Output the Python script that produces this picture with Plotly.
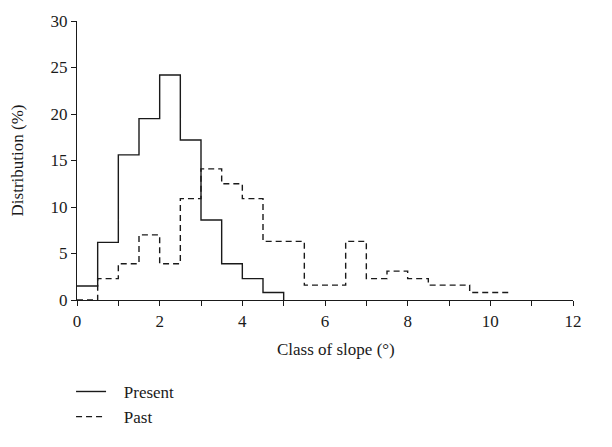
import plotly.graph_objects as go

# bin edges (class of slope, degrees) and distribution values (%)
present_edges = [0, 0.5, 1, 1.5, 2, 2.5, 3, 3.5, 4, 4.5, 5]
present_values = [1.5, 6.2, 15.6, 19.5, 24.2, 17.2, 8.6, 3.9, 2.3, 0.8]

past_edges = [0, 0.5, 1, 1.5, 2, 2.5, 3, 3.5, 4, 4.5, 5, 5.5, 6, 6.5, 7,
              7.5, 8, 8.5, 9, 9.5, 10, 10.5]
past_values = [0, 2.3, 3.9, 7.0, 3.9, 10.9, 14.1, 12.5, 10.9, 6.3, 6.3,
               1.6, 1.6, 6.3, 2.3, 3.1, 2.3, 1.6, 1.6, 0.8, 0.8]

x_ticks = list(range(0, 13))
x_ticklabels = [str(v) if v % 2 == 0 else "" for v in x_ticks]
y_ticks = [0, 5, 10, 15, 20, 25, 30]

FONT = "Liberation Serif"
INK = "#1a1a1a"
FS = 17
PAD = "\u00a0\u00a0\u00a0"

fig = go.Figure()
# Present: step line that drops to zero at its last edge
fig.add_trace(go.Scatter(
    x=present_edges, y=present_values + [0],
    mode="lines", line=dict(shape="hv", color=INK, width=1.4),
    name=PAD + "Present"))
# Past: dashed step line ending at its last edge
fig.add_trace(go.Scatter(
    x=past_edges, y=past_values + [past_values[-1]],
    mode="lines", line=dict(shape="hv", color=INK, width=1.4, dash="6px,4px"),
    name=PAD + "Past"))

fig.update_layout(
    width=612, height=447,
    margin=dict(l=77, r=39, t=17, b=131),
    paper_bgcolor="white", plot_bgcolor="white",
    font=dict(family=FONT, size=FS, color=INK),
    showlegend=True,
    legend=dict(x=-0.012, xanchor="left", y=-0.265, yanchor="top",
                font=dict(family=FONT, size=FS, color=INK),
                itemwidth=30, bgcolor="rgba(0,0,0,0)", tracegroupgap=0),
    annotations=[dict(text="Class of slope (°)", xref="paper", yref="paper",
                      x=0.522, y=-0.176, xanchor="center", yanchor="middle",
                      showarrow=False, font=dict(family=FONT, size=FS, color=INK))],
)
fig.update_xaxes(
    range=[0, 12], tickvals=x_ticks, ticktext=x_ticklabels,
    ticks="outside", ticklen=5, tickwidth=1, tickcolor=INK,
    showline=True, linecolor=INK, linewidth=1.2,
    showgrid=False, zeroline=False,
    tickfont=dict(family=FONT, size=FS),
)
fig.update_yaxes(
    range=[0, 30], tickvals=y_ticks,
    ticks="outside", ticklen=5, tickwidth=1, tickcolor=INK,
    showline=True, linecolor=INK, linewidth=1.2,
    showgrid=False, zeroline=False,
    title=dict(text="Distribution (%)", standoff=22,
               font=dict(family=FONT, size=FS)),
    tickfont=dict(family=FONT, size=FS),
)

fig.write_html("out.html")
